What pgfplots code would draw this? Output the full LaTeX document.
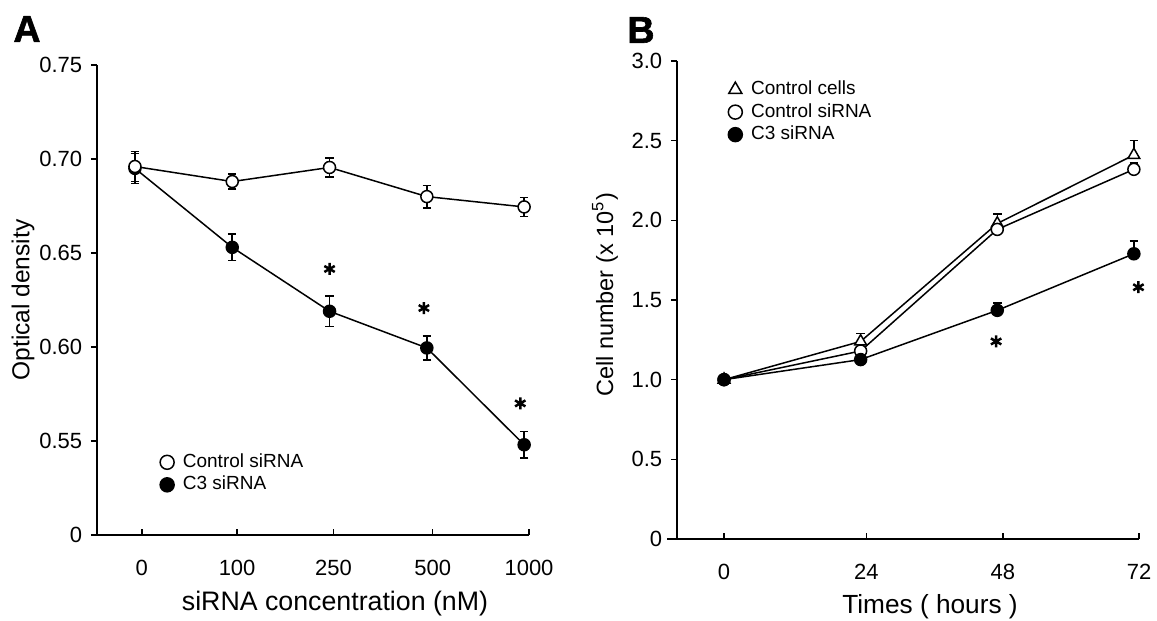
\documentclass[border=0pt]{standalone}
\usepackage{fontspec}
\setmainfont{Liberation Sans}
\newfontfamily\heavyfont[FakeBold=1.6]{Liberation Sans Bold}
\usepackage{pgfplots}
\pgfplotsset{compat=1.18}

% 1 px of the reference = 0.4pt
\pgfplotsset{
  panel/.style={
    scale only axis, clip=false,
    axis lines=left,
    axis line style={-, line width=0.6pt},
    x axis line style={shorten <=-2pt},
    tick style={black, line width=0.6pt},
    xtick align=inside, ytick align=outside,
    major tick length=2.4pt,
    tick label style={font=\fontsize{8.8}{10}\selectfont},
    xticklabel style={yshift=-6.5pt},
    /pgf/number format/assume math mode=true,
    legend style={draw=none, fill=none, font=\fontsize{7.6}{8.5}\selectfont,
      legend cell align=left, inner sep=0pt, row sep=-2pt,
      nodes={inner xsep=3.5pt}},
    legend image code/.code={\draw[##1] plot coordinates {(0.12cm,0cm)};},
  },
  err/.style={error bars/.cd, y dir=both, y explicit,
    error bar style={line width=0.6pt},
    error mark options={rotate=90, mark size=1.7pt, line width=0.6pt}},
  errp/.style={error bars/.cd, y dir=plus, y explicit,
    error bar style={line width=0.6pt},
    error mark options={rotate=90, mark size=1.7pt, line width=0.6pt}},
  filled/.style={black, line width=0.6pt, mark=*, mark size=2.4pt, mark options={solid, fill=black}},
  opencirc/.style={black, line width=0.6pt, mark=*, mark size=2.4pt, mark options={solid, fill=white}},
  opentri/.style={black, line width=0.6pt, mark=triangle*, mark size=2.7pt, mark options={solid, fill=white}},
  star/.style={black, only marks, mark=asterisk, mark size=2.4pt, line width=1pt},
}

\begin{document}
\begin{tikzpicture}
\useasboundingbox (0,0) rectangle (462.8pt,248.4pt);

% ---------------- panel A ----------------
\begin{axis}[panel,
  at={(38.8pt,34.4pt)}, anchor=south west,
  width=172.8pt, height=188pt,
  xmin=-0.39, xmax=4.05, ymin=0.5, ymax=0.75,
  xtick={0.07,1.05,2.04,3.06,4.05},
  xticklabels={0,100,250,500,1000},
  ytick={0.5,0.55,0.6,0.65,0.7,0.75},
  yticklabels={0,0.55,0.60,0.65,0.70,0.75},
  legend style={at={(0.145,0.185)}, anchor=north west}]
\addlegendimage{only marks, opencirc, mark size=2.8pt}
\addlegendentry{Control siRNA}
\addlegendimage{only marks, filled, mark size=2.8pt}
\addlegendentry{C3 siRNA}
\addplot[filled, forget plot, err] coordinates {
  (0,0.695) +- (0,0.008)
  (1,0.653) +- (0,0.007)
  (2,0.619) +- (0,0.008)
  (3,0.5995) +- (0,0.0063)
  (4,0.548) +- (0,0.007)};
\addplot[opencirc, forget plot, err] coordinates {
  (0,0.696) +- (0,0.008)
  (1,0.688) +- (0,0.004)
  (2,0.6955) +- (0,0.005)
  (3,0.680) +- (0,0.006)
  (4,0.6745) +- (0,0.005)};
\addplot[star, forget plot] coordinates {(2,0.6415) (2.97,0.6207) (3.96,0.570)};
\end{axis}

% ---------------- panel B ----------------
\begin{axis}[panel,
  at={(270.8pt,32.8pt)}, anchor=south west,
  width=184.8pt, height=191.2pt,
  x axis line style={shorten <=-4pt},
  xmin=-8.26, xmax=72.9, ymin=0, ymax=3,
  xtick={0,25,49,72.9},
  xticklabels={0,24,48,72},
  ytick={0,0.5,1,1.5,2,2.5,3},
  yticklabels={0,0.5,1.0,1.5,2.0,2.5,3.0},
  legend style={at={(0.11,0.97)}, anchor=north west}]
\addlegendimage{only marks, opentri, mark size=3pt}
\addlegendentry{Control cells}
\addlegendimage{only marks, opencirc, mark size=2.8pt}
\addlegendentry{Control siRNA}
\addlegendimage{only marks, filled, mark size=2.8pt}
\addlegendentry{C3 siRNA}
\addplot[opentri, forget plot, errp] coordinates {
  (0,1.0) +- (0,0)
  (24,1.24) +- (0,0.05)
  (48,1.98) +- (0,0.06)
  (72,2.41) +- (0,0.09)};
\addplot[opencirc, forget plot, errp] coordinates {
  (0,1.0) +- (0,0)
  (24,1.18) +- (0,0)
  (48,1.943) +- (0,0)
  (72,2.32) +- (0,0.04)};
\addplot[filled, forget plot, errp] coordinates {
  (0,1.0) +- (0,0)
  (24,1.126) +- (0,0)
  (48,1.435) +- (0,0.045)
  (72,1.79) +- (0,0.08)};
\addplot[star, forget plot] coordinates {(47.8,1.24) (72.8,1.58)};
\end{axis}

% ---------------- labels ----------------
\node[font=\fontsize{15}{15}\selectfont\heavyfont] at (10.8pt,236.8pt) {A};
\node[font=\fontsize{15}{15}\selectfont\heavyfont] at (256.4pt,236.4pt) {B};
\node[font=\fontsize{9.8}{11}\selectfont, rotate=90] at (9.2pt,128.4pt) {Optical density};
\node[font=\fontsize{9.4}{11}\selectfont, rotate=90] at (242pt,130.4pt) {Cell number (x 10\textsuperscript{5})};
\node[font=\fontsize{10.7}{12}\selectfont] at (134pt,7pt) {siRNA concentration (nM)};
\node[font=\fontsize{10.5}{12}\selectfont] at (372pt,5.8pt) {Times ( hours )};
\end{tikzpicture}
\end{document}
